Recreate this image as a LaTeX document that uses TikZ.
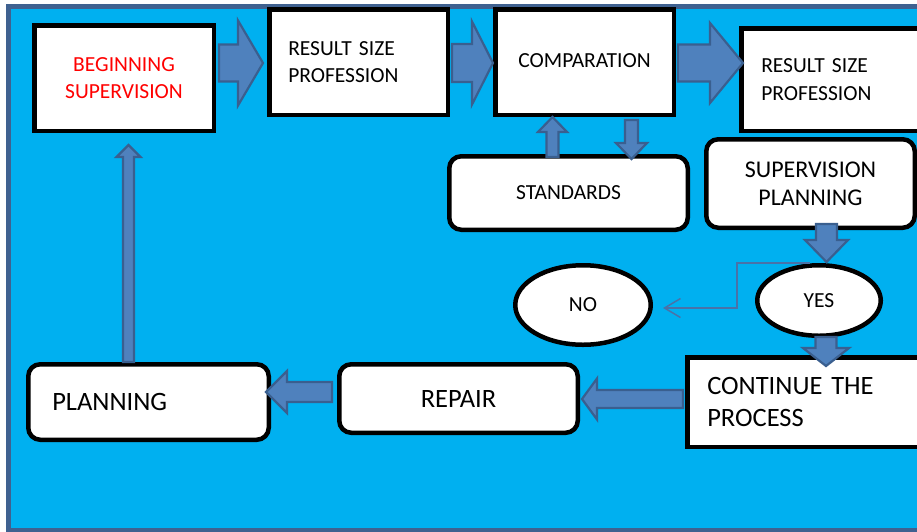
\documentclass[tikz,border=0pt]{standalone}
\usepackage{fontspec}
\setmainfont{Carlito}
\usetikzlibrary{calc,arrows.meta,shapes.geometric}
\definecolor{bgblue}{HTML}{00B0F0}
\definecolor{framec}{HTML}{3F6190}
\definecolor{arrfill}{HTML}{4F81BD}
\definecolor{arrline}{HTML}{3A5F8F}
\definecolor{thinc}{HTML}{4A72A8}
\newcommand\barrow[5]{%
  \coordinate (tmpP) at ($(#2)!#5!(#1)$);
  \draw[blockarr] ($(#1)!#3!90:(#2)$) -- ($(tmpP)!#3!90:(#2)$) -- ($(tmpP)!#4!90:(#2)$) -- (#2)
    -- ($(tmpP)!#4!-90:(#2)$) -- ($(tmpP)!#3!-90:(#2)$) -- ($(#1)!#3!-90:(#2)$) -- cycle;}
\tikzset{
  sqbox/.style={draw=black, line width=4.5pt, fill=white, rectangle},
  rbox/.style={draw=black, line width=4.5pt, fill=white, rectangle, rounded corners=12pt},
  ebox/.style={draw=black, line width=4.5pt, fill=white, ellipse, inner sep=0pt},
  fa/.style={font=\fontsize{21.5}{26}\selectfont},
  fb/.style={font=\fontsize{24}{28}\selectfont},
  fc/.style={font=\fontsize{26.5}{32}\selectfont},
  blockarr/.style={fill=arrfill, draw=arrline, line width=2.2pt, line join=miter},
  conn/.style={draw=thinc, line width=1.5pt, -{Straight Barb[length=16pt,width=19pt,line width=1.5pt]}}
}
\begin{document}
\begin{tikzpicture}[x=1pt,y=-1pt]
\useasboundingbox (0,0) rectangle (917,531);
\fill[white] (0,0) rectangle (917,531);
\draw[line width=5pt, draw=framec, fill=bgblue] (8.5,6.5) rectangle (945,530);

% nodes
\node[sqbox, fa, minimum width=179.5pt, minimum height=105.5pt, align=center, text=red]
  (begin) at (124,78) {BEGINNING\\[1pt]SUPERVISION};
\node[sqbox, fa, minimum height=105.5pt, text width=140.5pt, inner xsep=19pt, align=left]
  (res1) at (358.5,62) {\raisebox{1pt}{RESULT SIZE}\\PROFESSION};
\node[sqbox, fa, minimum width=178.5pt, minimum height=105.5pt, align=center]
  (comp) at (584.5,62) {\raisebox{2pt}{COMPARATION}};
\node[sqbox, fa, minimum height=102.5pt, text width=151.5pt, inner xsep=20pt, align=left]
  (res2) at (837,79.5) {\raisebox{1pt}{RESULT SIZE}\\[1pt]PROFESSION};
\node[rbox, fa, minimum width=238.5pt, minimum height=73.5pt, align=center]
  (stand) at (568.5,193) {\raisebox{1pt}{STANDARDS}};
\node[rbox, fb, minimum width=208.5pt, minimum height=88.5pt, align=center]
  (supplan) at (810.5,183.5) {SUPERVISION\\PLANNING};
\node[ebox, fa, minimum width=135.5pt, minimum height=79.5pt] (no) at (583,305) {NO};
\node[ebox, fa, minimum width=123.5pt, minimum height=70.5pt] (yes) at (819,300.5) {YES};
\node[sqbox, fc, minimum height=89.5pt, text width=230.5pt, inner xsep=20pt, align=left]
  (cont) at (822.5,402) {CONTINUE THE\\PROCESS};
\node[rbox, fc, minimum width=238.5pt, minimum height=68.5pt, align=center]
  (repair) at (458.5,398.5) {REPAIR};
\node[rbox, fc, minimum height=75.5pt, text width=192.5pt, inner xsep=24pt, align=left]
  (planning) at (148.5,402) {PLANNING};

% thin connector YES -> NO
\coordinate (nb) at (737,263);
\coordinate (nt) at ($(no.east)+(10,3)$);
\draw[conn] ($(yes.north)+(-9,0)$) -- (nb) |- (nt);

% block arrows
\coordinate (a1s) at ($(begin.east |- res1.west)+(3,1)$);
\coordinate (a1e) at ($(res1.west)+(-4,1)$);
\barrow{a1s}{a1e}{18.5pt}{42.5pt}{25pt}
\coordinate (a2s) at ($(res1.east)+(2,1)$);
\coordinate (a2e) at ($(comp.west)+(0,1)$);
\barrow{a2s}{a2e}{19pt}{41.5pt}{21pt}
\coordinate (a3s) at ($(comp.east)+(2,1)$);
\coordinate (a3e) at ($(res2.west |- comp.east)+(4,1)$);
\barrow{a3s}{a3e}{18.5pt}{40pt}{33pt}
\coordinate (a4s) at ($(stand.north)+(-16,3)$);
\coordinate (a4e) at (a4s |- comp.south);
\barrow{a4s}{a4e}{6pt}{14.5pt}{15pt}
\coordinate (a5s) at ($(comp.south)+(47,3)$);
\coordinate (a5e) at ($(a5s |- stand.north)+(0,5)$);
\barrow{a5s}{a5e}{6.5pt}{15.5pt}{16pt}
\coordinate (a6s) at ($(supplan.south)+(16,-6)$);
\coordinate (a6e) at ($(a6s |- yes.north)+(0,-1)$);
\barrow{a6s}{a6e}{10.5pt}{21.5pt}{22pt}
\coordinate (a7s) at ($(yes.south)+(7,-1)$);
\coordinate (a7e) at ($(a7s |- cont.north)+(0,11)$);
\barrow{a7s}{a7e}{10.5pt}{23pt}{18pt}
\coordinate (a8s) at ($(cont.west)+(-2,-3)$);
\coordinate (a8e) at ($(repair.east |- a8s)+(2,0)$);
\barrow{a8s}{a8e}{9pt}{20.5pt}{15pt}
\coordinate (a9s) at ($(repair.west)+(-5,-6.5)$);
\coordinate (a9e) at ($(planning.east |- a9s)+(-5,0)$);
\barrow{a9s}{a9e}{10pt}{21pt}{21pt}
\coordinate (a10s) at ($(planning.north)+(-20,0)$);
\coordinate (a10e) at ($(a10s |- begin.south)+(0,12)$);
\barrow{a10s}{a10e}{5.5pt}{12pt}{12pt}
\end{tikzpicture}
\end{document}
